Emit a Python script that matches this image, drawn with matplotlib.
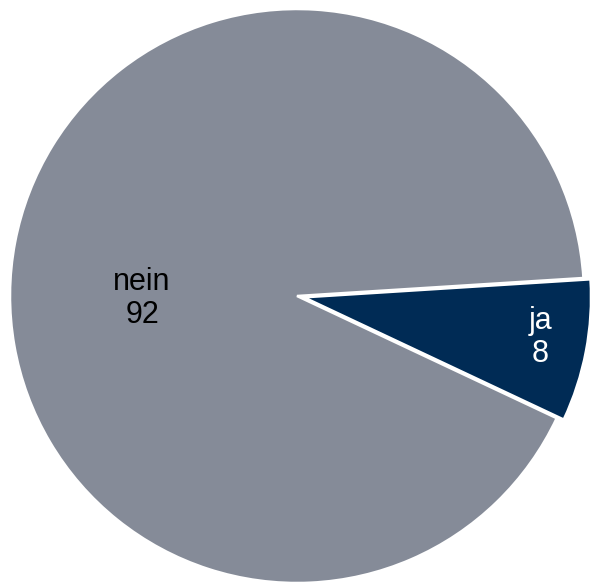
import matplotlib.pyplot as plt

# Daten
labels = ['ja', 'nein']
values = [8, 92]
colors = ['#002B55', '#858B98']

fig = plt.figure(figsize=(5.90, 5.83), dpi=100)
ax = fig.add_axes([0, 0, 1, 1])

wedges, _ = ax.pie(values, colors=colors, startangle=3.6, counterclock=False,
                   explode=[0.025, 0],
                   wedgeprops=dict(edgecolor='white', linewidth=1.8))

# Beschriftungen (Label + Wert)
label_pos = {'ja': (0.848, -0.143), 'nein': (-0.54, -0.01)}
text_col = {'ja': 'white', 'nein': 'black'}
for lab, val in zip(labels, values):
    x, y = label_pos[lab]
    ax.text(x, y, f'{lab}\n{val}', ha='center', va='center', fontsize=22,
            family=['Liberation Sans', 'DejaVu Sans'], color=text_col[lab],
            linespacing=1.13)

ax.set_xlim(-297 / 287, (590 - 297) / 287)
ax.set_ylim((296 - 583) / 287, 296 / 287)
ax.set_aspect('equal')
ax.axis('off')

fig.savefig('out.png', dpi=100)
